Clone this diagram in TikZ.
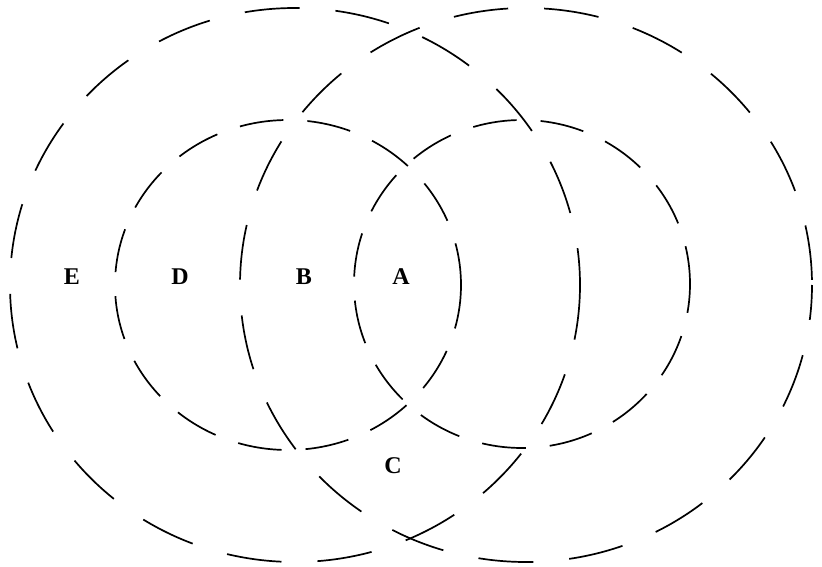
\documentclass[tikz,border=0pt]{standalone}
\usepackage{fontspec}
\setmainfont{Liberation Serif}
\begin{document}
\begin{tikzpicture}[x=1pt,y=-1pt,
  every node/.style={font=\bfseries\fontsize{24}{26}\selectfont},
  bigring/.style={line width=1.7pt,dash pattern=on 55pt off 36pt},
  smallring/.style={line width=1.7pt,dash pattern=on 44pt off 24pt}]
  \useasboundingbox (0,0) rectangle (822,567);
  % two large rings
  \draw[bigring] (295,285) ellipse [x radius=285,y radius=277];
  \draw[bigring,dash phase=20pt] (526,285) ellipse [x radius=286,y radius=277];
  % two small rings
  \draw[smallring] (288,285) ellipse [x radius=173,y radius=165];
  \draw[smallring,dash phase=15pt] (522,284) ellipse [x radius=168,y radius=164];
  % region labels
  \node (e) at (72,277) {E};
  \node (d) at (180,277) {D};
  \node (b) at (304,277) {B};
  \node (a) at (401,277) {A};
  \node (c) at (393,466) {C};
\end{tikzpicture}
\end{document}
